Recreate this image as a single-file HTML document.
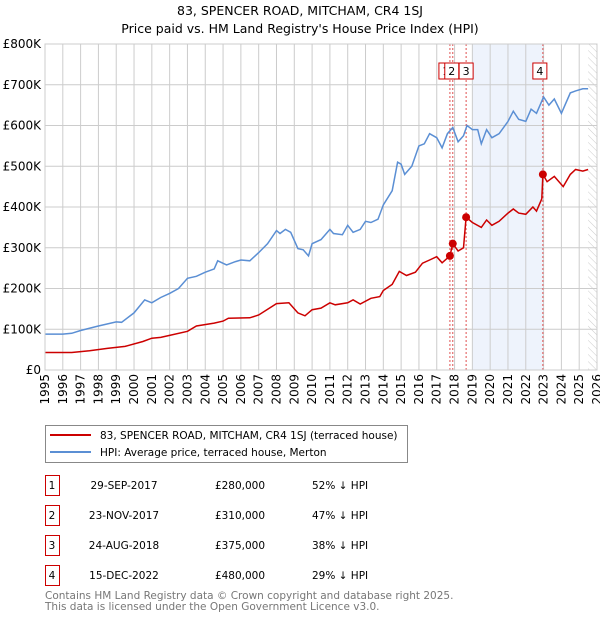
<!DOCTYPE html>
<html><head><meta charset="utf-8"><style>
body{margin:0;background:#fff;font-family:"Liberation Sans","DejaVu Sans",sans-serif}
svg text{font-family:"DejaVu Sans","Liberation Sans",sans-serif}
</style></head><body>
<svg id="c" width="600" height="620" xmlns="http://www.w3.org/2000/svg">
<defs><pattern id="hatch" width="5" height="5" patternUnits="userSpaceOnUse" patternTransform="rotate(-45)"><line x1="0" y1="0" x2="0" y2="5" stroke="#ccc" stroke-width="1"/></pattern></defs>
<text x="300" y="15" text-anchor="middle" font-size="12.5">83, SPENCER ROAD, MITCHAM, CR4 1SJ</text>
<text x="300" y="33" text-anchor="middle" font-size="12.5">Price paid vs. HM Land Registry's House Price Index (HPI)</text>
<g id="plot"></g>
<g>
<rect x="45.5" y="425.5" width="362" height="37" fill="#fff" stroke="#888"/>
<line x1="50" y1="435" x2="91" y2="435" stroke="#cc0000" stroke-width="2"/>
<text x="100" y="439" font-size="10.5">83, SPENCER ROAD, MITCHAM, CR4 1SJ (terraced house)</text>
<line x1="50" y1="452" x2="91" y2="452" stroke="#5b8fd4" stroke-width="2"/>
<text x="100" y="456" font-size="10.5">HPI: Average price, terraced house, Merton</text>
</g>
<g id="table" font-size="10.5"></g>
<text x="45" y="599" font-size="10.5" fill="#777">Contains HM Land Registry data © Crown copyright and database right 2025.</text>
<text x="45" y="610" font-size="10.5" fill="#777">This data is licensed under the Open Government Licence v3.0.</text>
</svg>
<script>
const yTicks=[0,100,200,300,400,500,600,700,800];
const yTickLabels=["£0","£100K","£200K","£300K","£400K","£500K","£600K","£700K","£800K"];
const xYears=[1995,1996,1997,1998,1999,2000,2001,2002,2003,2004,2005,2006,2007,2008,2009,2010,2011,2012,2013,2014,2015,2016,2017,2018,2019,2020,2021,2022,2023,2024,2025,2026];
const hpiT=[1995,1996,1996.5,1997,1998,1999,1999.3,2000,2000.6,2001,2001.5,2002,2002.5,2003,2003.5,2004,2004.5,2004.7,2005.2,2005.7,2006,2006.5,2007,2007.5,2008,2008.2,2008.5,2008.8,2009.2,2009.5,2009.8,2010,2010.5,2011,2011.2,2011.7,2012,2012.3,2012.7,2013,2013.3,2013.7,2014,2014.5,2014.8,2015,2015.2,2015.6,2016,2016.3,2016.6,2017,2017.3,2017.6,2017.9,2018.2,2018.5,2018.7,2019,2019.3,2019.5,2019.8,2020.1,2020.5,2021,2021.3,2021.6,2022,2022.3,2022.6,2023,2023.3,2023.6,2024,2024.5,2024.8,2025.2,2025.5];
const hpiV=[88,88,90,97,108,118,117,140,172,165,178,188,200,225,230,240,248,268,258,266,270,268,288,310,342,335,345,338,298,295,280,310,320,345,335,332,355,338,345,365,362,370,405,440,510,505,480,500,550,555,580,570,545,580,595,560,575,600,590,590,555,590,570,580,610,635,615,610,640,630,670,650,665,630,680,685,690,690];
const ppT=[1995,1996.5,1997.5,1998.5,1999.5,2000.5,2001,2001.5,2002,2003,2003.5,2004.5,2005,2005.3,2006.5,2007,2008,2008.7,2009.2,2009.6,2010,2010.5,2011,2011.3,2012,2012.3,2012.7,2013.3,2013.8,2014,2014.5,2014.9,2015.3,2015.8,2016.2,2016.6,2017,2017.3,2017.74,2017.9,2018.2,2018.5,2018.65,2019,2019.5,2019.8,2020.1,2020.5,2021,2021.3,2021.6,2022,2022.4,2022.6,2022.9,2022.96,2023.2,2023.6,2024.1,2024.5,2024.8,2025.2,2025.5];
const ppV=[43,43,47,53,58,70,78,80,85,95,108,115,120,127,128,135,163,165,140,133,148,152,165,160,165,172,162,176,180,195,210,242,232,240,262,270,278,263,280,310,292,300,375,362,350,368,355,365,385,395,385,382,400,390,420,480,462,475,450,480,492,488,492];
const saleT=[2017.74,2017.9,2018.65,2022.96];
const saleV=[280,310,375,480];
const saleLabels=["1","2","3","4"];
const saleDates=["29-SEP-2017","23-NOV-2017","24-AUG-2018","15-DEC-2022"];
const salePrices=["£280,000","£310,000","£375,000","£480,000"];
const saleHpi=["52% ↓ HPI","47% ↓ HPI","38% ↓ HPI","29% ↓ HPI"];
const NS="http://www.w3.org/2000/svg";
const L=45,R=597,T=44,B=370;
const xs=t=>L+(t-1995)/(2026-1995)*(R-L);
const ys=v=>B-v/800*(B-T);
const plot=document.getElementById('plot');
function mk(tag,attrs,parent){const e=document.createElementNS(NS,tag);for(const k in attrs)e.setAttribute(k,attrs[k]);(parent||plot).appendChild(e);return e;}
let sh=mk('rect',{x:xs(2019),y:T,width:xs(saleT[3])-xs(2019),height:B-T,fill:'#eef3fc'});


let ht=mk('rect',{x:xs(2025.5),y:T,width:R-xs(2025.5),height:B-T,fill:'url(#hatch)'});


yTicks.forEach((v,i)=>{
 let g=mk('line',{x1:L,x2:R,y1:ys(v),y2:ys(v),stroke:'#ccc'});
 
 
 let t=mk('text',{x:L-4,y:ys(v)+4,'text-anchor':'end','font-size':'12'});t.textContent=yTickLabels[i];
 
 
});
xYears.forEach(y=>{
 let g=mk('line',{x1:xs(y),x2:xs(y),y1:T,y2:B,stroke:'#ccc'});
 
 
 let t=mk('text',{transform:`translate(${xs(y)+4},${B+4}) rotate(-90)`,'text-anchor':'end','font-size':'12'});t.textContent=y;
 
 
});
saleT.forEach(t=>{
 let l=mk('line',{x1:xs(t),x2:xs(t),y1:T,y2:B,stroke:'#e05050','stroke-dasharray':'2,2'});
 
 
});
const path=(T_,V)=>T_.map((t,i)=>(i?'L':'M')+xs(t).toFixed(1)+','+ys(V[i]).toFixed(1)).join('');
let hp=mk('path',{d:path(hpiT,hpiV),fill:'none',stroke:'#5b8fd4','stroke-width':1.5});


let pp=mk('path',{d:path(ppT,ppV),fill:'none',stroke:'#cc0000','stroke-width':1.5});


saleT.forEach((t,i)=>{
 let c=mk('circle',{cx:xs(t),cy:ys(saleV[i]),r:4,fill:'#cc0000'});
 
 
});
const boxOff=[-4,-1,0,-3];
saleT.forEach((t,i)=>{
 let bx=xs(t)+boxOff[i]-7;
 if(i==2)bx=Math.max(bx,xs(saleT[1])+boxOff[1]+7);
 let r=mk('rect',{x:bx,y:63,width:14,height:16,fill:'#fff',stroke:'#cc0000'});
 
 
 let tx=mk('text',{x:bx+7,y:75,'text-anchor':'middle','font-size':'11'});tx.textContent=saleLabels[i];
 
 
});
mk('rect',{x:L,y:T,width:R-L,height:B-T,fill:'none',stroke:'#ccc'});
const tb=document.getElementById('table');
saleT.forEach((t,i)=>{
 const y=475+i*30;
 let r=mk('rect',{x:45.5,y:y+0.5,width:14,height:20,fill:'#fff',stroke:'#cc0000'},tb);
 
 
 const cells=[[52,saleLabels[i],'middle'],[124,saleDates[i],'middle'],[240,salePrices[i],'middle'],[312,saleHpi[i],'start']];
 cells.forEach(c=>{
  let tx=mk('text',{x:c[0],y:y+14,'text-anchor':c[2]},tb);tx.textContent=c[1];
  
  
 });
});
</script>
</body></html>
